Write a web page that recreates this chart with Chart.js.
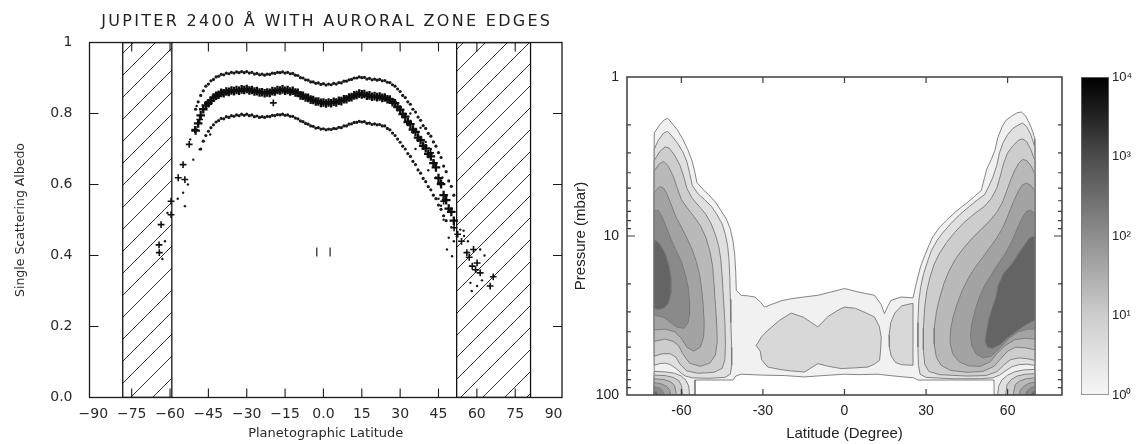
<!DOCTYPE html>
<html><head><meta charset="utf-8">
<script src="https://cdn.jsdelivr.net/npm/chart.js@4/dist/chart.umd.min.js"></script>
<style>
html,body{margin:0;padding:0;background:#fff;}
#wrap{position:relative;width:1138px;height:444px;overflow:hidden;background:#fff;}
canvas{position:absolute;left:0;top:0;}
</style></head><body>
<div id="wrap">
<canvas id="left" width="1138" height="444"></canvas>
<canvas id="right" width="1138" height="444"></canvas>
<canvas id="cbar" width="1138" height="444"></canvas>
</div>
<script>
// ================= LEFT PANEL DATA =================
const leftTitle = 'JUPITER 2400 Å WITH AURORAL ZONE EDGES';
const bandLat = [-50,-49,-48,-47,-46,-45,-44,-43,-42,-41,-40,-39,-38,-37,-36,-35,-34,-33,-32,-31,-30,-29,-28,-27,-26,-25,-24,-23,-22,-21,-20,-19,-18,-17,-16,-15,-14,-13,-12,-11,-10,-9,-8,-7,-6,-5,-4,-3,-2,-1,0,1,2,3,4,5,6,7,8,9,10,11,12,13,14,15,16,17,18,19,20,21,22,23,24,25,26,27,28,29,30,31,32,33,34,35,36,37,38,39,40,41,42,43,44,45,46,47,48,49,50,51];
const mainAlbedo = [0.752,0.772,0.795,0.812,0.823,0.829,0.836,0.845,0.850,0.853,0.858,0.857,0.862,0.861,0.865,0.863,0.866,0.864,0.868,0.866,0.869,0.865,0.866,0.862,0.863,0.859,0.860,0.857,0.859,0.858,0.863,0.862,0.866,0.865,0.868,0.864,0.866,0.862,0.864,0.859,0.858,0.851,0.850,0.845,0.844,0.839,0.838,0.834,0.834,0.830,0.831,0.828,0.831,0.829,0.833,0.831,0.836,0.835,0.840,0.840,0.845,0.846,0.851,0.852,0.856,0.854,0.855,0.850,0.851,0.847,0.849,0.846,0.848,0.844,0.845,0.840,0.839,0.832,0.829,0.818,0.811,0.798,0.791,0.776,0.770,0.755,0.748,0.732,0.725,0.709,0.702,0.686,0.679,0.660,0.648,0.618,0.601,0.570,0.556,0.532,0.523,0.498];
const upperAlbedo = [0.812,0.833,0.851,0.864,0.877,0.883,0.892,0.896,0.903,0.905,0.910,0.909,0.914,0.912,0.916,0.914,0.917,0.915,0.918,0.915,0.918,0.914,0.916,0.911,0.913,0.909,0.911,0.908,0.911,0.910,0.914,0.913,0.916,0.915,0.917,0.914,0.916,0.912,0.913,0.908,0.907,0.901,0.900,0.895,0.894,0.889,0.889,0.885,0.886,0.882,0.884,0.880,0.883,0.881,0.885,0.883,0.887,0.886,0.891,0.891,0.895,0.896,0.900,0.900,0.903,0.901,0.902,0.897,0.899,0.895,0.897,0.894,0.896,0.892,0.893,0.888,0.887,0.881,0.877,0.869,0.862,0.851,0.845,0.833,0.826,0.812,0.804,0.790,0.781,0.766,0.758,0.744,0.736,0.720,0.708,0.690,0.676,0.652,0.636,0.610,0.595,0.570];
const lowerAlbedo = [null,null,0.700,0.722,0.738,0.750,0.760,0.768,0.776,0.780,0.786,0.785,0.791,0.789,0.794,0.792,0.796,0.794,0.798,0.795,0.798,0.794,0.796,0.791,0.793,0.789,0.791,0.789,0.792,0.791,0.795,0.794,0.797,0.796,0.798,0.795,0.796,0.792,0.792,0.787,0.785,0.779,0.777,0.772,0.770,0.765,0.764,0.759,0.760,0.756,0.757,0.754,0.756,0.755,0.758,0.757,0.761,0.760,0.765,0.765,0.770,0.771,0.775,0.775,0.778,0.776,0.777,0.772,0.773,0.769,0.771,0.768,0.769,0.765,0.765,0.758,0.754,0.745,0.738,0.728,0.719,0.708,0.700,0.687,0.679,0.665,0.656,0.641,0.632,0.617,0.608,0.594,0.585,0.570,0.560,0.542,0.530,0.512,0.498,null,null,null];
const crossLat = [-48.4,-50.3,-52.5,-54.9,-56.8,-54.2,-59.6,-59.6,-63.5,-64.2,-64.3,-19.6,51.1,56.1,60.1,58.2,61.3,65.2,58.7,66.4,57.0,59.5,54.0,52.5,41.9,43.2,45.8,47.0];
const crossAlbedo = [0.783,0.755,0.713,0.656,0.619,0.614,0.553,0.515,0.487,0.408,0.430,0.830,0.478,0.408,0.379,0.370,0.351,0.314,0.417,0.340,0.395,0.360,0.440,0.460,0.689,0.661,0.605,0.553];
const dotLat = [-54.9,-54.2,-48.4,-50.9,-52.1,-49.6,-44.3,-53.0,-57.0,-61.0,-62.0,-63.0,53.5,54.8,60.1,57.5,61.3,47.0,48.3,49.0,50.3,52.2,55.0,56.5,58.0,62.0,63.0,50.0,51.0,45.0,44.0,46.0,34.0,38.0,40.0,42.0,36.0,41.0,46.5];
const dotAlbedo = [0.577,0.539,0.699,0.670,0.727,0.821,0.741,0.600,0.560,0.520,0.440,0.390,0.473,0.470,0.314,0.323,0.417,0.501,0.417,0.450,0.398,0.454,0.455,0.440,0.300,0.330,0.400,0.480,0.440,0.560,0.620,0.540,0.800,0.760,0.720,0.700,0.700,0.640,0.620];
const markLat = [-2.6, 2.6];
const markAlbedo = [0.41, 0.41];
const auroralZones = [[-78.5, -59.3], [52.1, 81.0]];
const xTickValues = [-90,-75,-60,-45,-30,-15,0,15,30,45,60,75,90];
const xTickLabels = ['−90','−75','−60','−45','−30','−15','0.0','15','30','45','60','75','90'];
const yTickValues = [0,0.2,0.4,0.6,0.8,1];
const yTickLabels = ['0.0','0.2','0.4','0.6','0.8','1'];

// ================= RIGHT PANEL DATA =================
const latTickValues = [-60,-30,0,30,60];
const latTickLabels = ['-60','-30','0','30','60'];
const pressureTickValues = [1,10,100];
const pressureTickLabels = ['1','10','100'];
const pressureMinorTicks = [2,3,4,5,6,7,8,9,20,30,40,50,60,70,80,90];
const colorbarTickValues = [1,10,100,1000,10000];
const colorbarTickLabels = ['10⁰','10¹','10²','10³','10⁴'];
const levelColors = ['#f1f1f1','#e0e0e0','#cdcdcd','#b9b9b9','#a3a3a3','#8a8a8a','#646464'];
const blobColor = '#d8d8d8';
// contours as [latitude, pressure(mbar)] pairs
const contourL1 = [[-70,2.25],[-68,2.0],[-66.3,1.86],[-65,1.82],[-63.5,1.95],[-61.5,2.15],[-59.5,2.45],[-57.5,2.9],[-56,3.4],[-55,4.0],[-54.3,4.6],[-52.5,5.0],[-50,5.5],[-47.5,6.1],[-45.5,6.9],[-43.5,7.8],[-42,9.0],[-41,10.8],[-40.4,13],[-40,17],[-39.8,22],[-38,23.6],[-35.5,23.8],[-33,24.2],[-31,26],[-29.4,28],[-27,27],[-23,25.5],[-19.6,24.8],[-15,24.2],[-9.8,23.6],[-5,22.5],[0,21.4],[5,22.5],[11,23.6],[13.5,27],[14.7,30.8],[16,27.5],[17.1,25.4],[20.8,24.2],[25.2,24.5],[25.8,22],[26.5,19.5],[28,15.5],[29.5,13.3],[31,11.5],[32.5,10.1],[35,8.8],[37.4,8.0],[41,7.0],[44.7,6.25],[47.5,5.7],[50.3,5.17],[51.5,4.3],[52.3,3.8],[54,3.3],[55.3,2.9],[56.4,2.4],[58,2.05],[59.4,1.87],[61.9,1.74],[63.5,1.68],[65,1.66],[66.5,1.75],[68,1.95],[69.2,2.2],[70,2.45],[70,100],[55,100],[55,80.5],[27,80.5],[25.5,78],[20,76.5],[12,74],[5,74.5],[0,74],[-8,75.5],[-14.7,77],[-22,75.5],[-30,75],[-38,74],[-40,76],[-41,80.5],[-55,80.5],[-55,100],[-70,100],[-70,2.25]];
const centralBlobA = [[-32.5,48.8],[-30.5,43],[-28.2,39.2],[-24,34],[-19.6,30.5],[-15,32.5],[-9.8,37.3],[-6,32],[-2,29],[0,28],[4,28.5],[8,30.5],[11,32.3],[12.8,37],[13.5,43.2],[13.3,52],[12.9,60.5],[11,64],[8.6,66.7],[4,67.5],[-1.2,68.2],[-6,66],[-9.8,63.5],[-12,67],[-14.7,71.7],[-20,70.5],[-24,69],[-28.2,66.7],[-30.5,60],[-31,53],[-32.5,48.8]];
const centralBlobB = [[25.2,26.5],[21,27.5],[18.5,30.5],[17,35],[16.4,42],[16.5,50],[17.2,57],[18.8,62.5],[21,64.5],[25.2,65],[25.2,26.5]];
const leftLobe = [
  [[-70,2.85],[-68.5,2.5],[-66.5,2.25],[-65,2.2],[-63.5,2.35],[-61.5,2.6],[-59.5,2.95],[-58,3.4],[-57,4.0],[-56,4.8],[-54,5.4],[-51.5,5.9],[-49,6.5],[-47,7.3],[-45,8.4],[-43.8,9.8],[-43,11.5],[-42.5,14],[-42.2,18],[-42,25],[-41.8,35],[-41.5,50],[-41.5,65],[-42,74],[-44,77.5],[-50,78.5],[-56,78],[-58.5,76],[-60,73],[-62,68],[-64,64.5],[-66,63],[-68,63.5],[-70,65],[-70,2.85]],
  [[-70,3.35],[-68,2.95],[-66,2.75],[-64.5,2.8],[-62.5,3.1],[-60.5,3.6],[-59,4.3],[-58,5.0],[-56,5.8],[-53.5,6.5],[-51,7.3],[-49,8.4],[-47.5,9.8],[-46.3,11.5],[-45.5,14],[-45,18],[-44.5,25],[-44,35],[-43.8,48],[-44,60],[-45,68],[-48,72],[-54,73],[-58,70.5],[-60.5,64],[-62,58],[-64,55],[-67,55],[-70,57],[-70,3.35]],
  [[-70,3.9],[-68,3.5],[-66.5,3.4],[-65,3.6],[-63,4.2],[-61.5,5.0],[-60,5.9],[-58,6.6],[-55.5,7.5],[-53,8.6],[-51,10.2],[-49.5,12.5],[-48.5,15.5],[-48,20],[-47.5,27],[-47,36],[-46.8,46],[-47.5,56],[-49.5,63],[-53,66],[-57,63],[-59.5,55],[-61,49],[-63,46],[-66,44.5],[-70,46],[-70,3.9]],
  [[-70,5.3],[-68,4.9],[-66.5,5.0],[-65,5.6],[-63.5,6.5],[-62,7.6],[-60,8.8],[-58,10.3],[-56,12.2],[-54.5,14.5],[-53.3,17.5],[-52.6,21],[-52,27],[-51.6,35],[-51.8,43],[-53,50],[-55.5,53],[-58,50],[-60,44],[-62.5,40],[-66,38.5],[-70,39],[-70,5.3]],
  [[-70,6.9],[-68.5,6.9],[-67,7.6],[-65.5,8.8],[-64,10.3],[-62,12.3],[-60,14.5],[-58.5,17.5],[-57.5,21],[-57,26],[-57,31],[-57.5,35],[-59,38],[-61.5,37.5],[-64,35],[-66.5,32.5],[-70,31.5],[-70,6.9]],
  [[-70,10.5],[-68,11.2],[-66,12.8],[-64.5,15.5],[-63.7,19],[-63.8,23],[-64.8,26.5],[-66.5,28.5],[-68.5,29],[-70,28.5],[-70,10.5]]
];
const leftCorner = [
  [[-70,71],[-66,71.5],[-62.5,73],[-60,76],[-58.3,81],[-57.3,88],[-57,100],[-70,100],[-70,71]],
  [[-70,75],[-66,75.5],[-63,77.5],[-61,81],[-60,87],[-59.5,100],[-70,100],[-70,75]],
  [[-70,79],[-66.5,80],[-64,82.5],[-62.5,87],[-61.8,100],[-70,100],[-70,79]],
  [[-70,83.5],[-67.5,85],[-65.5,88],[-64.3,93],[-64,100],[-70,100],[-70,83.5]],
  [[-70,88.5],[-68,90.5],[-66.8,95],[-66.3,100],[-70,100],[-70,88.5]],
  [[-70,93.5],[-68.8,97],[-68.5,100],[-70,100],[-70,93.5]]
];
const rightLobe = [
  [[70,2.75],[68.5,2.3],[67,2.05],[65.5,1.95],[64,2.0],[62,2.1],[60,2.3],[58.3,2.6],[57,3.0],[56,3.6],[54.5,4.3],[53,4.9],[51.5,5.5],[49,5.9],[46,6.5],[42.5,7.3],[39,8.4],[36,9.6],[34,10.7],[32,12.3],[30.5,14.5],[29,17.5],[28,21],[27.3,26],[27,35],[27,50],[27.2,65],[27.8,74],[30,77.5],[40,79],[50,79],[54.5,78],[57,75],[59,71],[61.5,66.5],[64,64.5],[67,64],[70,65],[70,2.75]],
  [[70,3.35],[68.5,2.85],[67,2.55],[65.5,2.45],[64,2.5],[62,2.7],[60,3.0],[58.5,3.5],[57.3,4.2],[56,5.0],[54,5.8],[51.5,6.5],[48,7.2],[44,8.2],[40.5,9.5],[37.5,11],[35,12.8],[33,15],[31.5,18],[30.3,22],[29.5,28],[29,38],[29,52],[29.5,64],[31,71],[35,74.5],[45,76],[52,75.5],[56,71.5],[58.5,65],[61,60],[64,58.5],[67,59],[70,60.5],[70,3.35]],
  [[70,4.05],[68.5,3.6],[67,3.35],[65.5,3.3],[64,3.5],[62.5,3.9],[61,4.5],[59.5,5.3],[58,6.2],[56,7.1],[53.5,8.0],[50.5,9.0],[47,10.3],[44,11.8],[41,13.8],[38.5,16.5],[36.5,20],[35,24.5],[33.8,30],[33,38],[33,48],[33.8,58],[35.5,65],[39,70],[45,72],[51,71],[55,66],[57.5,59],[60,53],[63,50],[66.5,50.5],[70,52],[70,4.05]],
  [[70,5.2],[68.5,4.8],[67,4.65],[65.5,4.75],[64,5.2],[62.5,5.9],[61,6.8],[59.5,7.9],[58,9.0],[56,10.3],[53.5,11.8],[51,13.5],[48,15.8],[45.5,18.5],[43.3,22],[41.5,26.5],[40,32],[39,39],[38.8,47],[39.8,55],[42,61.5],[45.5,65.5],[50,66],[53.5,62],[56,55],[59,49],[62.5,45],[66.5,44],[70,44.5],[70,5.2]],
  [[70,7.2],[68.5,6.9],[67,7.0],[65.5,7.6],[64,8.6],[62.5,9.9],[61,11.3],[59,13],[56.5,15],[54,17.5],[51.5,20.5],[49.5,24.5],[48,29.5],[46.8,35.5],[46.3,42],[46.8,49],[48.5,55.5],[51,58.5],[54,57],[57,51],[60.5,44],[64,40],[67.5,38.5],[70,38.5],[70,7.2]],
  [[70,10],[68,10.3],[66,11.5],[64,12.9],[61.5,15],[58.4,17.3],[56.5,20.5],[55.7,24.2],[54.3,28.5],[53,33.7],[52.2,40],[51.7,46],[52.5,50],[54.3,51],[57,48.5],[59.8,44],[63,40],[66.4,36.5],[70,33.7],[70,10]]
];
const rightCorner = [
  [[70,69],[66,69.5],[62.5,71.5],[60,75],[58,80],[56.8,87],[56.3,100],[70,100],[70,69]],
  [[70,73.5],[66.5,74],[63.5,76],[61.3,80],[59.8,86],[59.3,100],[70,100],[70,73.5]],
  [[70,78],[67,79],[64.5,81.5],[62.8,86],[62,100],[70,100],[70,78]],
  [[70,83],[67.8,84.5],[66,88],[64.7,93],[64.3,100],[70,100],[70,83]],
  [[70,88],[68.3,90.5],[67,95],[66.6,100],[70,100],[70,88]],
  [[70,93],[69,97],[68.7,100],[70,100],[70,93]]
];

// ================= HELPERS =================
const toXY = (lat, vals) => lat.map((x, i) => vals[i] == null ? null : {x, y: vals[i]}).filter(Boolean);
const polyXY = pts => pts.map(([x, y]) => ({x, y}));

const hatchPattern = (() => {
  const c = document.createElement('canvas'); c.width = 22; c.height = 22;
  const g = c.getContext('2d');
  g.strokeStyle = '#333'; g.lineWidth = 1;
  g.beginPath();
  g.moveTo(-2, 24); g.lineTo(24, -2);
  g.moveTo(-24, 24); g.lineTo(2, -2);
  g.moveTo(20, 24); g.lineTo(46, -2);
  g.stroke();
  return g.createPattern(c, 'repeat');
})();

function framePlugin(cfg) {
  return {
    id: 'frame' + cfg.id,
    afterDatasetsDraw(chart) {
      const {ctx, chartArea: a, scales} = chart;
      ctx.save();
      ctx.strokeStyle = cfg.color; ctx.lineWidth = cfg.lw;
      ctx.strokeRect(a.left, a.top, a.right - a.left, a.bottom - a.top);
      ctx.lineWidth = cfg.tickLw;
      ctx.beginPath();
      for (const v of cfg.xTicks) {
        const px = scales.x.getPixelForValue(v);
        ctx.moveTo(px, a.bottom); ctx.lineTo(px, a.bottom - cfg.xLen);
        ctx.moveTo(px, a.top); ctx.lineTo(px, a.top + cfg.xLen);
      }
      for (const t of cfg.yTicks) {
        const py = scales.y.getPixelForValue(t.v);
        ctx.moveTo(a.left, py); ctx.lineTo(a.left + t.len, py);
        ctx.moveTo(a.right, py); ctx.lineTo(a.right - t.len, py);
      }
      ctx.stroke();
      if (cfg.title) {
        ctx.fillStyle = '#222';
        ctx.font = cfg.titleFont;
        ctx.letterSpacing = cfg.titleSpacing;
        ctx.textAlign = 'center'; ctx.textBaseline = 'middle';
        ctx.fillText(cfg.title, (a.left + a.right) / 2 + 1, cfg.titleY);
      }
      ctx.restore();
    }
  };
}

Chart.defaults.animation = false;
Chart.defaults.plugins.legend.display = false;
Chart.defaults.plugins.tooltip.enabled = false;

// ================= LEFT CHART =================
const leftDatasets = [];
auroralZones.forEach(([a, b]) => {
  leftDatasets.push({
    type: 'line', data: polyXY([[a,0],[a,1],[b,1],[b,0],[a,0]]),
    fill: 'shape', backgroundColor: hatchPattern, borderColor: '#111', borderWidth: 1.3,
    pointRadius: 0, tension: 0, order: 10
  });
});
leftDatasets.push({data: toXY(bandLat, upperAlbedo), pointStyle: 'circle', pointRadius: 1.6, pointBorderWidth: 0, pointBackgroundColor: '#1a1a1a', order: 3});
leftDatasets.push({data: toXY(bandLat, lowerAlbedo), pointStyle: 'circle', pointRadius: 1.6, pointBorderWidth: 0, pointBackgroundColor: '#1a1a1a', order: 3});
leftDatasets.push({data: toXY(dotLat, dotAlbedo), pointStyle: 'circle', pointRadius: 1.2, pointBorderWidth: 0, pointBackgroundColor: '#1a1a1a', order: 3});
leftDatasets.push({data: toXY(bandLat, mainAlbedo), pointStyle: 'cross', pointRadius: 4.3, pointBorderWidth: 2.3, pointBorderColor: '#0e0e0e', order: 2});
leftDatasets.push({data: toXY(crossLat, crossAlbedo), pointStyle: 'cross', pointRadius: 3.4, pointBorderWidth: 1.6, pointBorderColor: '#111', order: 2});
leftDatasets.push({data: toXY(markLat, markAlbedo), pointStyle: 'line', rotation: 90, pointRadius: 4.5, pointBorderWidth: 1.2, pointBorderColor: '#222', order: 1});

new Chart(document.getElementById('left'), {
  type: 'scatter',
  data: {datasets: leftDatasets},
  options: {
    responsive: false, devicePixelRatio: 1,
    layout: {padding: {left: 0, top: 42.5, right: 576, bottom: 0}},
    scales: {
      x: {
        type: 'linear', min: -91.5, max: 93.3,
        afterBuildTicks: s => { s.ticks = xTickValues.map(v => ({value: v})); },
        afterFit: s => { s.height = 46.5; },
        grid: {display: false, drawTicks: false}, border: {display: false},
        ticks: {autoSkip: false, maxRotation: 0, padding: 8, color: '#2a2a2a',
                font: {family: 'DejaVu Sans', size: 14}, callback: (v, i) => xTickLabels[i]},
        title: {display: true, text: 'Planetographic Latitude', color: '#2a2a2a',
                font: {family: 'DejaVu Sans', size: 13}, padding: {top: 0, bottom: 3}}
      },
      y: {
        type: 'linear', min: 0, max: 1,
        afterBuildTicks: s => { s.ticks = yTickValues.map(v => ({value: v})); },
        afterFit: s => { s.width = 89.5; },
        grid: {display: false, drawTicks: false}, border: {display: false},
        ticks: {autoSkip: false, padding: 17, color: '#2a2a2a',
                font: {family: 'DejaVu Sans', size: 14}, callback: (v, i) => yTickLabels[i]},
        title: {display: true, text: 'Single Scattering Albedo', color: '#2a2a2a',
                font: {family: 'DejaVu Sans', size: 12.5}, padding: {top: 13, bottom: 0}}
      }
    }
  },
  plugins: [framePlugin({
    id: 'L', color: '#1a1a1a', lw: 1.3, tickLw: 1.1, xLen: 9,
    xTicks: xTickValues.slice(1, -1),
    yTicks: yTickValues.slice(1, -1).map(v => ({v, len: 9})),
    title: leftTitle, titleFont: '16px "DejaVu Sans"', titleSpacing: '2.3px', titleY: 22
  })]
});

// ================= RIGHT CHART =================
const polys = [];
polys.push({pts: contourL1, color: levelColors[0]});
polys.push({pts: centralBlobA, color: blobColor});
polys.push({pts: centralBlobB, color: blobColor});
leftLobe.forEach((p, k) => polys.push({pts: p, color: levelColors[k + 1]}));
leftCorner.forEach((p, k) => polys.push({pts: p, color: levelColors[k + 1]}));
rightLobe.forEach((p, k) => polys.push({pts: p, color: levelColors[k + 1]}));
rightCorner.forEach((p, k) => polys.push({pts: p, color: levelColors[k + 1]}));
const rightDatasets = polys.map((p, i) => ({
  type: 'line', data: polyXY(p.pts), fill: 'shape', backgroundColor: p.color,
  borderColor: '#777', borderWidth: 0.9, pointRadius: 0, tension: 0,
  order: polys.length - i
}));

new Chart(document.getElementById('right'), {
  type: 'scatter',
  data: {datasets: rightDatasets},
  options: {
    responsive: false, devicePixelRatio: 1,
    layout: {padding: {left: 560, top: 77, right: 76, bottom: 0}},
    scales: {
      x: {
        type: 'linear', min: -80, max: 80,
        afterBuildTicks: s => { s.ticks = latTickValues.map(v => ({value: v})); },
        afterFit: s => { s.height = 49; },
        grid: {display: false, drawTicks: false}, border: {display: false},
        ticks: {autoSkip: false, maxRotation: 0, padding: 8, color: '#222',
                font: {family: 'Liberation Sans', size: 14}, callback: (v, i) => latTickLabels[i]},
        title: {display: true, text: 'Latitude (Degree)', color: '#222',
                font: {family: 'Liberation Sans', size: 15}, padding: {top: 0, bottom: 1}}
      },
      y: {
        type: 'logarithmic', min: 1, max: 100, reverse: true,
        afterBuildTicks: s => { s.ticks = pressureTickValues.map(v => ({value: v})); },
        afterFit: s => { s.width = 67; },
        grid: {display: false, drawTicks: false}, border: {display: false},
        ticks: {autoSkip: false, padding: 8, color: '#222',
                font: {family: 'Liberation Sans', size: 14}, callback: (v, i) => pressureTickLabels[i]},
        title: {display: true, text: 'Pressure (mbar)', color: '#222',
                font: {family: 'Liberation Sans', size: 15}, padding: {top: 12, bottom: 0}}
      }
    }
  },
  plugins: [framePlugin({
    id: 'R', color: '#3c3c3c', lw: 1.5, tickLw: 1.2, xLen: 6,
    xTicks: latTickValues,
    yTicks: [{v: 10, len: 8}].concat(pressureMinorTicks.map(v => ({v, len: 4})))
  })]
});

// ================= COLORBAR =================
new Chart(document.getElementById('cbar'), {
  type: 'bar',
  data: {labels: ['n'], datasets: [{
    data: [[1, 10000]],
    backgroundColor: c => {
      const a = c.chart.chartArea;
      if (!a) return '#888';
      const g = c.chart.ctx.createLinearGradient(0, a.bottom, 0, a.top);
      g.addColorStop(0, '#f6f6f6'); g.addColorStop(0.25, '#cdcdcd');
      g.addColorStop(0.5, '#8e8e8e'); g.addColorStop(0.75, '#4c4c4c');
      g.addColorStop(0.9, '#1c1c1c'); g.addColorStop(1, '#000');
      return g;
    },
    borderColor: '#777', borderWidth: 1, borderSkipped: false,
    barPercentage: 1, categoryPercentage: 1
  }]},
  options: {
    responsive: false, devicePixelRatio: 1,
    layout: {padding: {left: 1081, top: 77, right: 0, bottom: 49}},
    scales: {
      x: {display: false},
      y: {
        type: 'logarithmic', position: 'right', min: 1, max: 10000,
        afterBuildTicks: s => { s.ticks = colorbarTickValues.map(v => ({value: v})); },
        afterFit: s => { s.width = 29; },
        grid: {display: false, drawTicks: false}, border: {display: false},
        ticks: {autoSkip: false, padding: 3, color: '#222',
                font: {family: 'Liberation Sans', size: 13}, callback: (v, i) => colorbarTickLabels[i]}
      }
    }
  }
});
</script>
</body></html>
